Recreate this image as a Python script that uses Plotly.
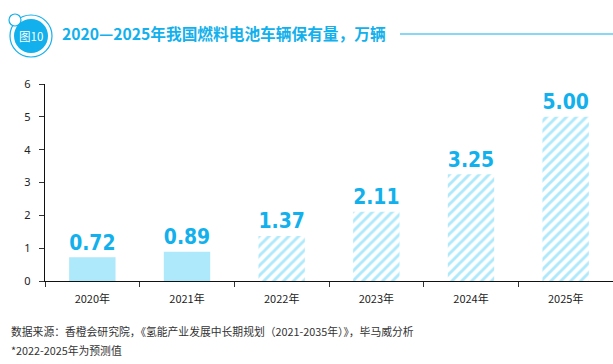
import plotly.graph_objects as go

categories = ["2020年", "2021年", "2022年", "2023年", "2024年", "2025年"]
values = [0.72, 0.89, 1.37, 2.11, 3.25, 5.00]
labels = ["0.72", "0.89", "1.37", "2.11", "3.25", "5.00"]
forecast = [False, False, True, True, True, True]
yticks = [0, 1, 2, 3, 4, 5, 6]

title_text = "2020—2025年我国燃料电池车辆保有量，万辆"
badge_text = "图10"
source_text = "数据来源：香橙会研究院，《氢能产业发展中长期规划（2021-2035年）》，毕马威分析"
note_text = "*2022-2025年为预测值"

BLUE = "#12B0EC"
LIGHT = "#AEE9FB"

W, H = 613, 364
L, R, T, B = 45, 613, 84, 281

def px(x):
    return (x - L) / (R - L)

def py(y):
    return (B - y) / (B - T)

actual_vals = [v if not f else None for v, f in zip(values, forecast)]
actual_lbls = [t if not f else "" for t, f in zip(labels, forecast)]
fc_vals = [v if f else None for v, f in zip(values, forecast)]
fc_lbls = [t if f else "" for t, f in zip(labels, forecast)]

label_font = dict(family="DejaVu Sans Condensed", size=27, color=BLUE, weight="bold")

fig = go.Figure()
fig.add_trace(go.Bar(
    x=categories, y=actual_vals, width=0.49,
    marker=dict(color=LIGHT, line=dict(width=0)),
    text=actual_lbls, textposition="outside", textfont=label_font,
    cliponaxis=False, hoverinfo="skip",
))
fig.add_trace(go.Bar(
    x=categories, y=fc_vals, width=0.49,
    marker=dict(
        color="white", line=dict(width=0),
        pattern=dict(shape="/", fgcolor=LIGHT, bgcolor="white", fgopacity=1,
                     fillmode="overlay", size=7, solidity=0.42),
    ),
    text=fc_lbls, textposition="outside", textfont=label_font,
    cliponaxis=False, hoverinfo="skip",
))

shapes = [
    dict(type="line", xref="paper", yref="paper", x0=px(400), x1=px(613), y0=py(34), y1=py(34),
         line=dict(color=BLUE, width=1.2)),
    dict(type="circle", xref="paper", yref="paper", x0=px(10), x1=px(52), y0=py(15), y1=py(57),
         line=dict(color=BLUE, width=1.2), fillcolor="rgba(0,0,0,0)"),
    dict(type="circle", xref="paper", yref="paper", x0=px(14), x1=px(48), y0=py(19), y1=py(53),
         line=dict(width=0), fillcolor=BLUE),
    dict(type="circle", xref="paper", yref="paper", x0=px(9), x1=px(21), y0=py(14), y1=py(26),
         line=dict(color=BLUE, width=1.2), fillcolor="white"),
]

annotations = [
    dict(text=badge_text, xref="paper", yref="paper", x=px(31), y=py(36), showarrow=False,
         xanchor="center", yanchor="middle",
         font=dict(family="Noto Sans CJK SC", size=11.5, color="white")),
    dict(text=title_text, xref="paper", yref="paper", x=px(60), y=py(34), showarrow=False,
         xanchor="left", yanchor="middle",
         font=dict(family="Noto Sans CJK SC", size=15.7, color=BLUE, weight="bold")),
    dict(text=source_text, xref="paper", yref="paper", x=px(9), y=py(331), showarrow=False,
         xanchor="left", yanchor="middle",
         font=dict(family="Noto Sans CJK SC", size=10.8, color="#333333")),
    dict(text=note_text, xref="paper", yref="paper", x=px(9), y=py(350), showarrow=False,
         xanchor="left", yanchor="middle",
         font=dict(family="Noto Sans CJK SC", size=10.8, color="#333333")),
]

fig.update_layout(
    width=W, height=H,
    margin=dict(l=L, r=W - R, t=T, b=H - B),
    paper_bgcolor="white",
    plot_bgcolor="white",
    showlegend=False,
    barmode="overlay",
    shapes=shapes,
    annotations=annotations,
    font=dict(family="Noto Sans CJK SC", size=11, color="#222222"),
)

fig.update_xaxes(
    type="category",
    showline=True, linecolor="#111111", linewidth=1.3,
    ticks="outside", tickson="boundaries", ticklen=5, tickcolor="#333333",
    ticklabelstandoff=8,
    tickfont=dict(family="Noto Sans CJK SC", size=11, color="#222222"),
    showgrid=False,
)
fig.update_yaxes(
    range=[0, 6],
    tickvals=yticks,
    showline=True, linecolor="#111111", linewidth=1.3,
    ticks="outside", ticklen=5, tickcolor="#333333",
    ticklabelstandoff=6,
    tickfont=dict(family="Noto Sans, Open Sans", size=11, color="#222222"),
    showgrid=False, zeroline=False,
)

fig.write_html("out.html", config={"displayModeBar": False},
               post_script="document.body.style.margin='0';document.body.style.padding='0';")
